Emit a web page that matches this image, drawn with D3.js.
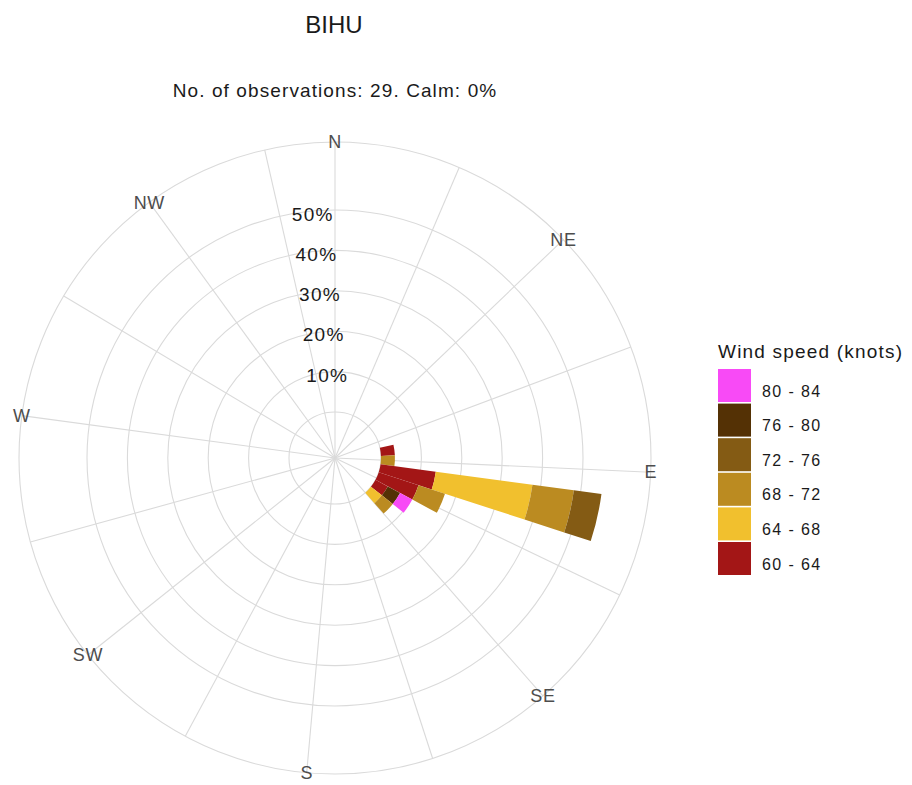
<!DOCTYPE html>
<html>
<head>
<meta charset="utf-8">
<script src="https://cdn.jsdelivr.net/npm/d3@7"></script>
<style>
  body { margin: 0; background: #fff; }
  text { font-family: "Liberation Sans", Arial, sans-serif; }
</style>
</head>
<body>
<svg id="chart"></svg>
<script>
// wind direction bins (degrees, 10 degree sectors)
var directions = [80, 90, 100, 110, 120, 130];
var speedBins = ["60 - 64", "64 - 68", "68 - 72", "72 - 76", "76 - 80", "80 - 84"];
var binColors = ["#a31616", "#f1c02e", "#bb8b21", "#845b14", "#543105", "#f84af6"];
// observations per direction, one array per speed bin
var n60 = [1, 0, 4, 3, 1, 0];
var n64 = [0, 0, 7, 0, 0, 1];
var n68 = [0, 1, 3, 2, 0, 1];
var n72 = [0, 0, 2, 0, 0, 0];
var n76 = [0, 0, 0, 0, 1, 0];
var n80 = [0, 0, 0, 0, 1, 0];
var nObs = 29;
var pctTicks = [10, 20, 30, 40, 50];
var compass = ["N", "NE", "E", "SE", "S", "SW", "W", "NW"];
var compassAngles = [0, 45, 90, 135, 180, 225, 270, 315];
var spokeAngles = d3.range(0, 360, 22.5);

var width = 912, height = 785;
var cx = 335, cy = 458, R = 316;

var svg = d3.select("#chart").attr("width", width).attr("height", height);

// scales (x runs 0..350 round the full circle, as in the original plot)
var aScale = d3.scaleLinear().domain([0, 350]).range([0, 2 * Math.PI]);
var rScale = d3.scaleLinear().domain([0, 50]).range([46, 248]);

var plot = svg.append("g").attr("transform", "translate(" + cx + "," + cy + ")");

// grid rings
var rings = [0, 10, 20, 30, 40, 50];
plot.selectAll("circle.ring").data(rings).enter().append("circle")
    .attr("class", "ring")
    .attr("r", function(d) { return rScale(d); })
    .attr("fill", "none").attr("stroke", "#dadada").attr("stroke-width", 1.1);
plot.append("circle").attr("r", R).attr("fill", "none").attr("stroke", "#dadada").attr("stroke-width", 1.1);

// spokes
plot.selectAll("line.spoke").data(spokeAngles).enter().append("line")
    .attr("class", "spoke")
    .attr("x1", 0).attr("y1", 0)
    .attr("x2", function(d) { return R * Math.sin(aScale(d)); })
    .attr("y2", function(d) { return -R * Math.cos(aScale(d)); })
    .attr("stroke", "#dadada").attr("stroke-width", 1.1);

// stacked bars
var series = [n60, n64, n68, n72, n76, n80];
var arc = d3.arc();
directions.forEach(function(dir, i) {
  var cum = 0;
  series.forEach(function(s, j) {
    if (!s[i]) return;
    var p0 = cum / nObs * 100;
    cum += s[i];
    var p1 = cum / nObs * 100;
    plot.append("path")
        .attr("d", arc({
          innerRadius: rScale(p0), outerRadius: rScale(p1),
          startAngle: aScale(dir - 5), endAngle: aScale(dir + 5)
        }))
        .attr("fill", binColors[j]);
  });
});

// percent labels
plot.selectAll("text.pct").data(pctTicks).enter().append("text")
    .attr("class", "pct")
    .attr("x", function(d) { return rScale(d) * Math.sin(aScale(345)); })
    .attr("y", function(d) { return -rScale(d) * Math.cos(aScale(345)) + 3; })
    .attr("text-anchor", "middle").attr("dy", "0.35em")
    .attr("font-size", 19).attr("letter-spacing", 1.3).attr("fill", "#1a1a1a")
    .text(function(d) { return d + "%"; });

// compass labels
plot.selectAll("text.dir").data(compass).enter().append("text")
    .attr("class", "dir")
    .attr("x", function(d, i) { return R * Math.sin(aScale(compassAngles[i])); })
    .attr("y", function(d, i) { return -R * Math.cos(aScale(compassAngles[i])); })
    .attr("text-anchor", "middle").attr("dy", "0.35em")
    .attr("font-size", 18).attr("letter-spacing", 0.6).attr("fill", "#4d4d4d")
    .text(function(d) { return d; });

// titles
svg.append("text").attr("x", 334).attr("y", 33).attr("text-anchor", "middle")
    .attr("font-size", 24).attr("fill", "#1a1a1a").text("BIHU");
svg.append("text").attr("x", 335).attr("y", 97).attr("text-anchor", "middle")
    .attr("font-size", 19).attr("letter-spacing", 1.1).attr("fill", "#1a1a1a")
    .text("No. of observations: " + nObs + ". Calm: 0%");

// legend
var legend = svg.append("g").attr("transform", "translate(718,0)");
legend.append("text").attr("x", 0).attr("y", 358)
    .attr("font-size", 19).attr("letter-spacing", 1.2).attr("fill", "#1a1a1a").text("Wind speed (knots)");
var legendOrder = d3.range(speedBins.length).reverse();
legend.selectAll("rect").data(legendOrder).enter().append("rect")
    .attr("x", 0).attr("y", function(d, i) { return 369 + i * 34.6; })
    .attr("width", 33).attr("height", 33)
    .attr("fill", function(d) { return binColors[d]; });
legend.selectAll("text.lab").data(legendOrder).enter().append("text")
    .attr("class", "lab")
    .attr("x", 44).attr("y", function(d, i) { return 369 + i * 34.6 + 27.5; })
    .attr("font-size", 16).attr("letter-spacing", 1.4).attr("fill", "#1a1a1a")
    .text(function(d) { return speedBins[d]; });
</script>
</body>
</html>
